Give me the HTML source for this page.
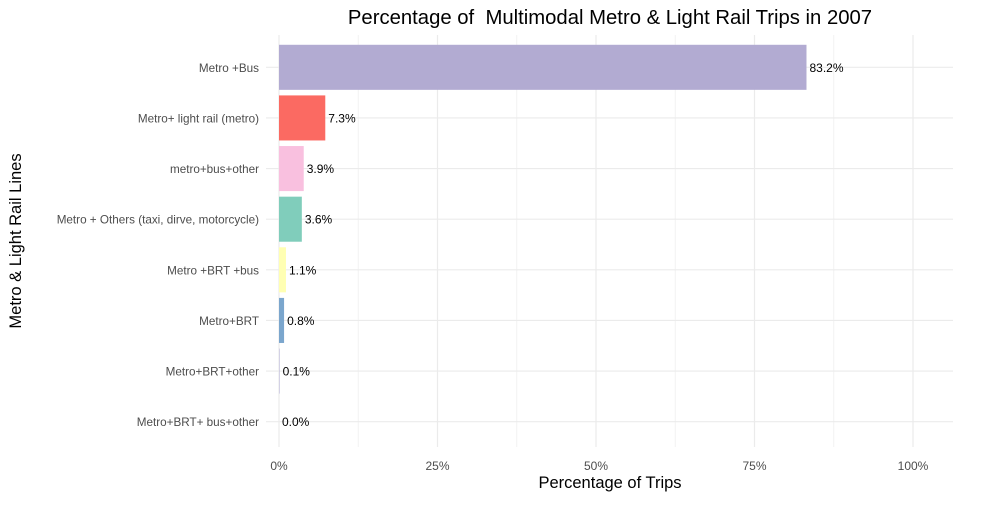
<!DOCTYPE html>
<html><head><meta charset="utf-8"><style>
body{margin:0;background:#fff;font-family:"Liberation Sans",sans-serif}
</style></head><body>
<svg id="chart" width="1000" height="500" xmlns="http://www.w3.org/2000/svg"></svg>
<script>
const categories=["Metro +Bus","Metro+ light rail (metro)","metro+bus+other","Metro + Others (taxi, dirve, motorcycle)","Metro +BRT +bus","Metro+BRT","Metro+BRT+other","Metro+BRT+ bus+other"];
const values=[83.2,7.3,3.9,3.6,1.1,0.8,0.1,0.0];
const colors=["#b2abd2","#fb6a62","#f9c0df","#80cdbb","#ffffb3","#7ba6cd","#bebada","#fccde5"];
const xTicks=[0,25,50,75,100];
const xTickLabels=["0%","25%","50%","75%","100%"];
const svg=document.getElementById('chart');
const NS='http://www.w3.org/2000/svg';
const x0=279,x1=913,pl=266,pr=953,pt=42,pb=447,gt=35;
const xs=v=>x0+(x1-x0)*v/100;
const step=(pb-pt)/categories.length;
const yc=i=>pt+step*(i+0.5);
function mk(t,a,txt){const e=document.createElementNS(NS,t);for(const k in a)e.setAttribute(k,a[k]);if(txt!=null)e.textContent=txt;svg.appendChild(e);return e;}
for(let i=0;i<xTicks.length-1;i++){const m=(xTicks[i]+xTicks[i+1])/2;
const g=mk('line',{x1:xs(m),x2:xs(m),y1:gt,y2:pb,stroke:'#f2f2f2','stroke-width':1});

}
xTicks.forEach((t,i)=>{
const g=mk('line',{x1:xs(t),x2:xs(t),y1:gt,y2:pb,stroke:'#ebebeb','stroke-width':1.2});


const l=mk('text',{x:xs(t),y:470,'text-anchor':'middle','font-size':12,fill:'#4d4d4d'},xTickLabels[i]);


});
categories.forEach((c,i)=>{
const g=mk('line',{x1:pl,x2:pr,y1:yc(i),y2:yc(i),stroke:'#ebebeb','stroke-width':1.2});


});
categories.forEach((c,i)=>{
const h=step*0.89;
const r=mk('rect',{x:xs(0),y:yc(i)-h/2,width:Math.max(0,xs(values[i])-xs(0)),height:h,fill:colors[i]});


const v=mk('text',{x:xs(values[i])+3,y:yc(i)+4.5,'font-size':12,fill:'#000'},values[i].toFixed(1)+'%');


const l=mk('text',{x:259,y:yc(i)+4.5,'text-anchor':'end','font-size':11.7,fill:'#4d4d4d'},c);


});
const t=mk('text',{x:610,y:24,'text-anchor':'middle','font-size':20.3,fill:'#000'},'Percentage of  Multimodal Metro & Light Rail Trips in 2007');


t.style.whiteSpace='pre';
const xt=mk('text',{x:610,y:488,'text-anchor':'middle','font-size':16.5,fill:'#000'},'Percentage of Trips');


const yt=mk('text',{x:21,y:241,'text-anchor':'middle','font-size':16.5,fill:'#000',transform:'rotate(-90 21 241)'},'Metro & Light Rail Lines');


</script>
</body></html>
